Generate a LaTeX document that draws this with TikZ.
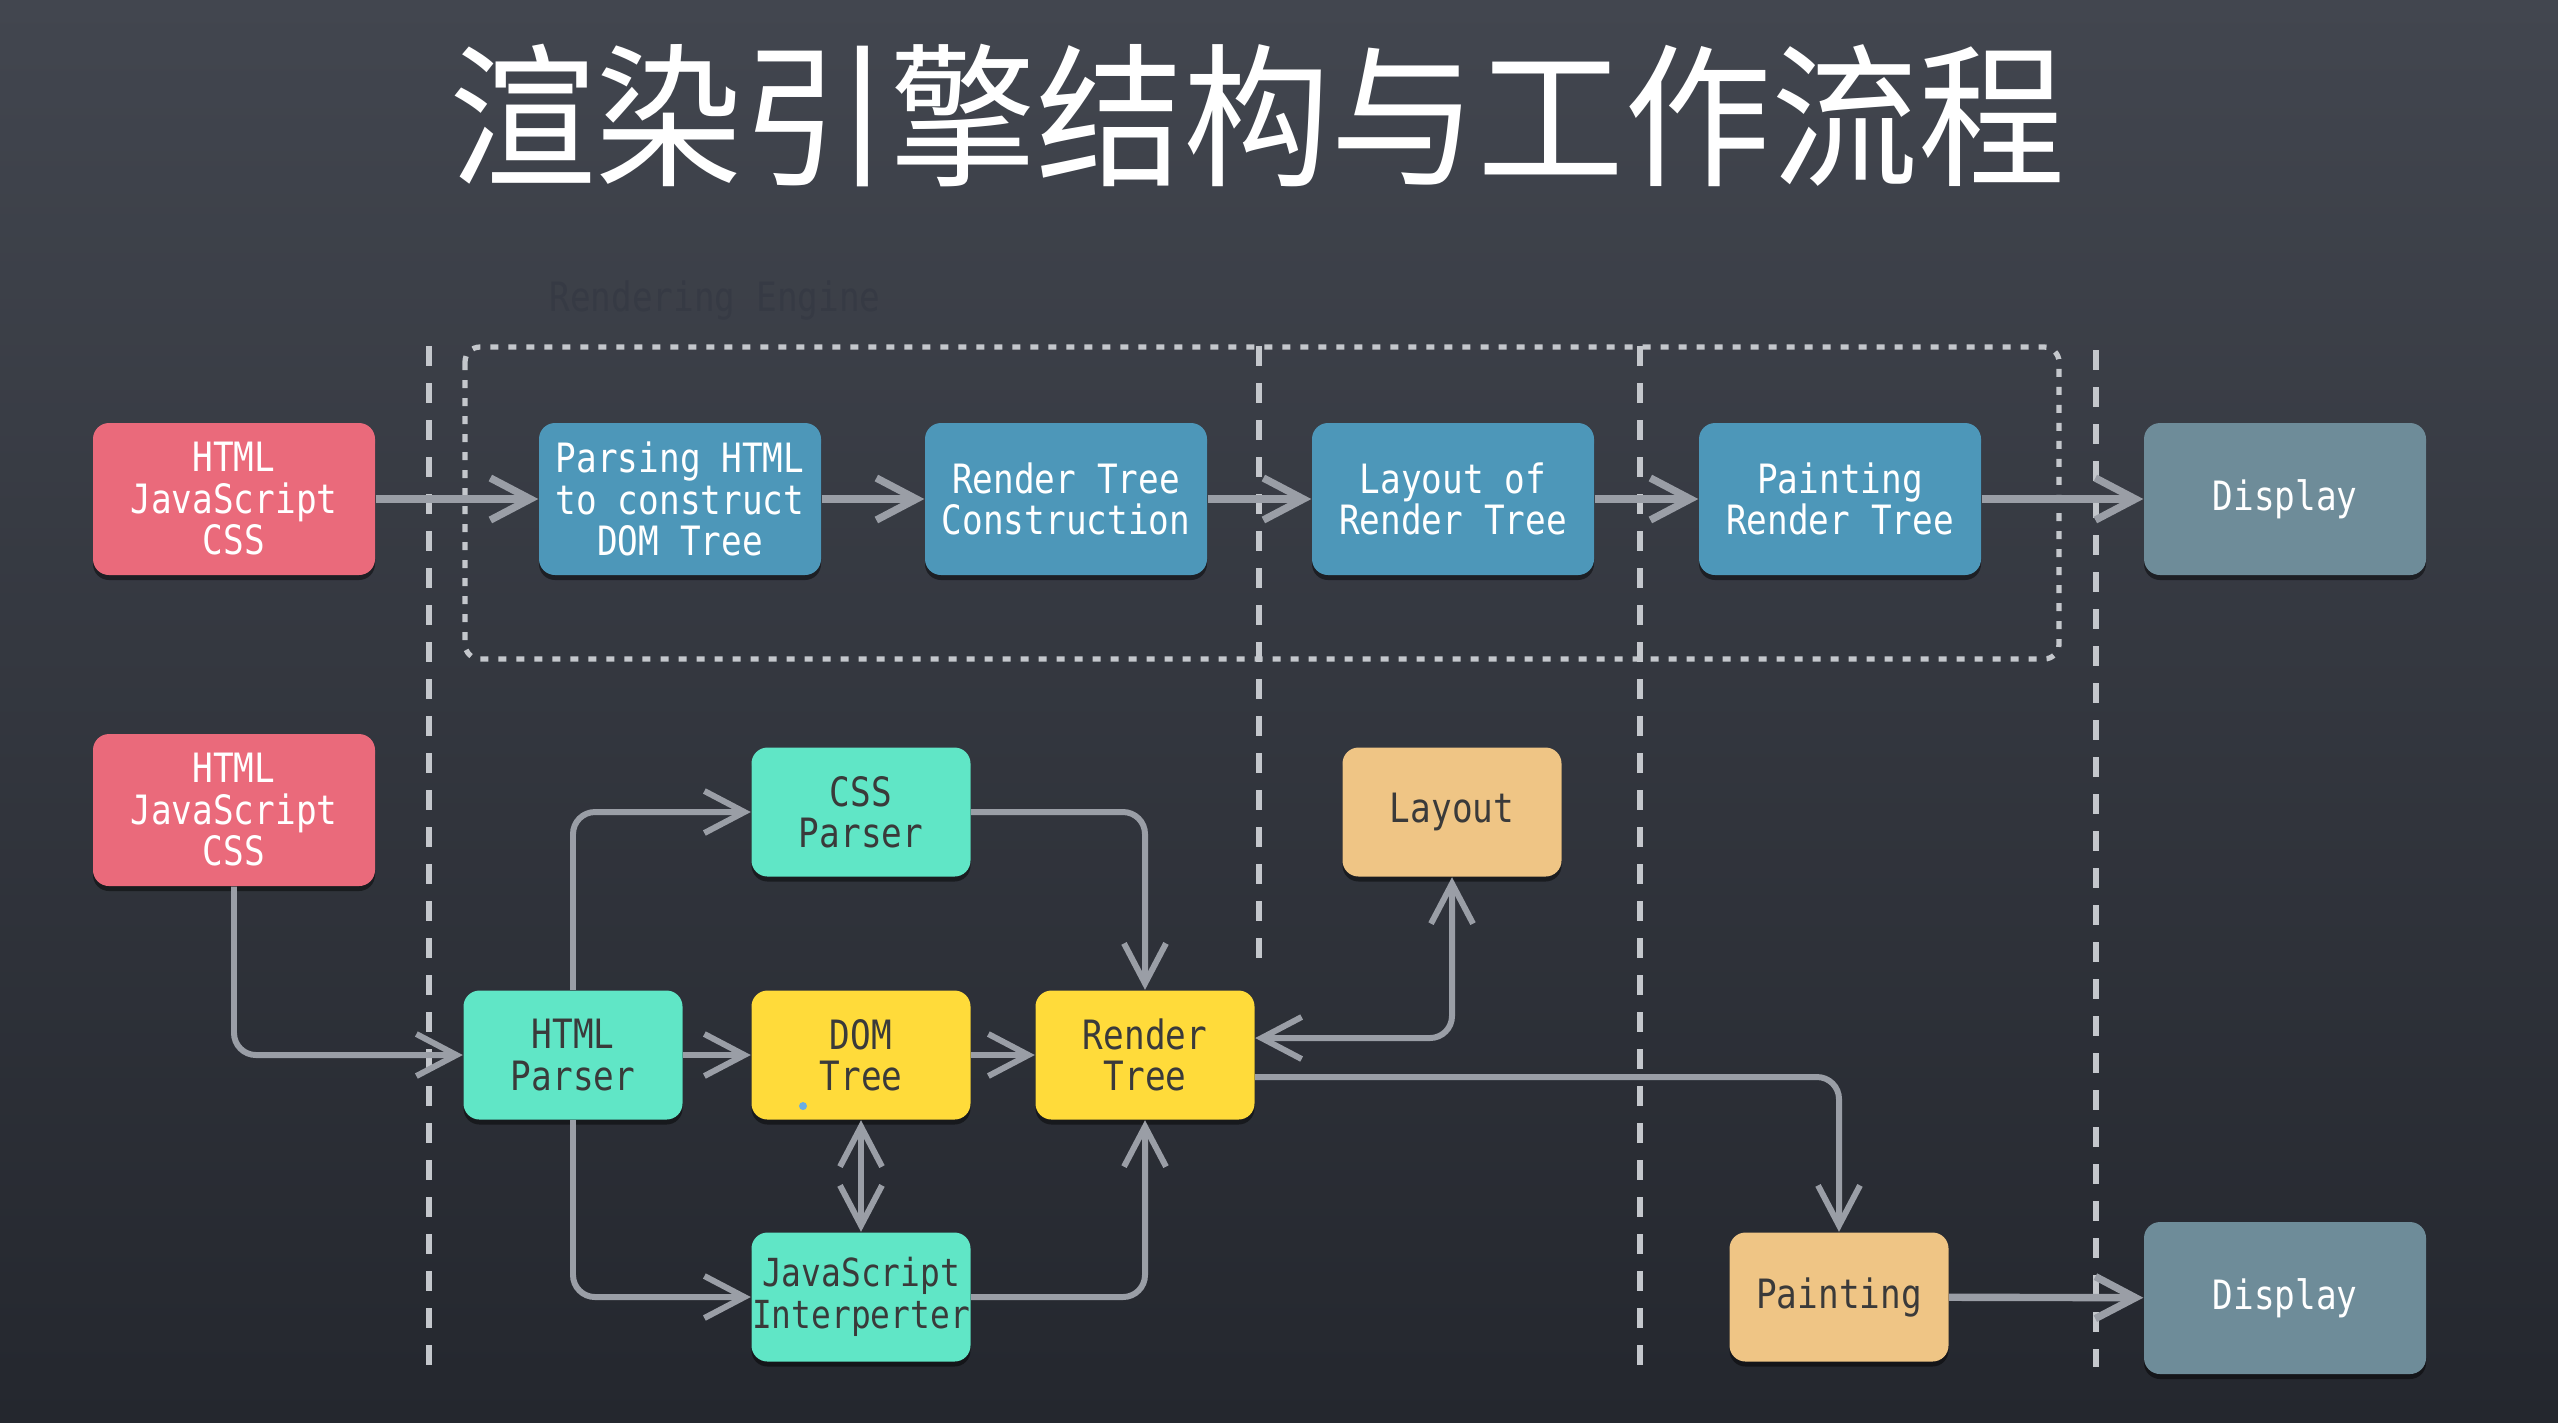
\documentclass[tikz,border=0pt]{standalone}
\usepackage{fontspec}
\newfontfamily\monof[FakeStretch=0.85]{DejaVu Sans Mono}
\newfontfamily\cjkf[FakeStretch=0.95]{Noto Sans CJK SC}
\usetikzlibrary{arrows.meta,shadows,calc}
\definecolor{bgtop}{HTML}{42464F}
\definecolor{bgbot}{HTML}{24272E}
\definecolor{cred}{HTML}{EA6A7B}
\definecolor{cblue}{HTML}{4D97B9}
\definecolor{cdisp}{HTML}{6E8C99}
\definecolor{cteal}{HTML}{60E6C6}
\definecolor{cyel}{HTML}{FFDB3A}
\definecolor{ctan}{HTML}{EFC585}
\definecolor{darktxt}{HTML}{3A3A3A}
\definecolor{agray}{HTML}{9A9EA6}
\definecolor{lgray}{HTML}{C4C7CC}
\definecolor{faint}{HTML}{363A44}
\begin{document}
\begin{tikzpicture}[x=1cm,y=1cm,
  >={Straight Barb[length=0.4cm,width=0.42cm]},
  box/.style={rounded corners=0.16cm, align=center, inner sep=0pt,
    font=\monof\fontsize{11.5}{11.8}\selectfont,
    drop shadow={shadow xshift=0pt, shadow yshift=-0.05cm, opacity=0.45, fill=black}},
  bigbox/.style={box, minimum width=2.82cm, minimum height=1.52cm},
  smallbox/.style={box, minimum width=2.19cm, minimum height=1.29cm},
  redbox/.style={bigbox, fill=cred, text=white},
  bluebox/.style={bigbox, fill=cblue, text=white},
  dispbox/.style={bigbox, fill=cdisp, text=white},
  tealbox/.style={smallbox, fill=cteal, text=darktxt},
  yelbox/.style={smallbox, fill=cyel, text=darktxt},
  tanbox/.style={smallbox, fill=ctan, text=darktxt},
  conn/.style={draw=agray, line width=1.7pt, rounded corners=0.22cm},
  topconn/.style={conn, line width=2.1pt},
  vdash/.style={draw=lgray, line width=1.5pt, dash pattern=on 0.2cm off 0.17cm},
  dotbox/.style={draw=lgray, line width=1.5pt, dash pattern=on 0.08cm off 0.1cm, rounded corners=0.15cm},
]
\useasboundingbox (0,0) rectangle (25.58,-14.22);
\shade[top color=bgtop, bottom color=bgbot] (0,0) rectangle (25.58,-14.22);

% title
\node[font=\cjkf\fontsize{44}{44}\selectfont, text=white] (title) at (12.57,-1.16) {渲染引擎结构与工作流程};
\node[font=\monof\fontsize{11.5}{11.8}\selectfont, text=faint] (eng) at (7.15,-3.0) {Rendering Engine};

% separators
\draw[vdash] (4.29,-3.46) -- (4.29,-13.67);
\draw[vdash] (12.59,-3.46) -- (12.59,-9.63);
\draw[vdash] (16.40,-3.46) -- (16.40,-13.67);
\draw[vdash] (20.96,-3.50) -- (20.96,-13.67);
\draw[dotbox] (4.65,-3.47) rectangle (20.59,-6.59);

% top row
\node[redbox] (r1) at (2.34,-4.99) {HTML\\JavaScript\\CSS};
\node[bluebox] (p1) at (6.80,-4.99) {Parsing HTML\\to construct\\DOM Tree};
\node[bluebox] (p2) at (10.66,-4.99) {Render Tree\\Construction};
\node[bluebox] (p3) at (14.53,-4.99) {Layout of\\Render Tree};
\node[bluebox] (p4) at (18.40,-4.99) {Painting\\Render Tree};
\node[dispbox] (d1) at (22.85,-4.99) {Display};
\draw[topconn,->] (r1) -- (p1);
\draw[topconn,->] (p1) -- (p2);
\draw[topconn,->] (p2) -- (p3);
\draw[topconn,->] (p3) -- (p4);
\draw[topconn,->] (p4) -- (d1);

% bottom
\node[redbox] (r2) at (2.34,-8.10) {HTML\\JavaScript\\CSS};
\node[tealbox] (css) at (8.61,-8.12) {CSS\\Parser};
\node[tanbox] (lay) at (14.52,-8.12) {Layout};
\node[tealbox] (hp) at (5.73,-10.55) {HTML\\Parser};
\node[yelbox] (dom) at (8.61,-10.55) {DOM\\Tree};
\node[yelbox] (rt) at (11.45,-10.55) {Render\\Tree};
\node[tealbox, font=\monof\fontsize{11}{11.8}\selectfont] (js) at (8.61,-12.97) {JavaScript\\Interperter};
\node[tanbox] (pt) at (18.39,-12.97) {Painting};
\node[dispbox] (d2) at (22.85,-12.98) {Display};
\fill[cyan!70!blue!60] (8.03,-11.06) circle (0.04);

\draw[conn,->] (r2.south) |- (hp.west);
\draw[conn,->] (hp.north) |- (css.west);
\draw[conn,->] (hp) -- (dom);
\draw[conn,->] (dom) -- (rt);
\draw[conn,->] (css.east) -| (rt.north);
\draw[conn,->] (hp.south) |- (js.west);
\draw[conn,<->] (dom.south) -- (js.north);
\draw[conn,->] (js.east) -| (rt.south);
\draw[conn,<->] ($(rt.east)+(0,0.17)$) -| (lay.south);
\draw[conn,->] ($(rt.east)+(0,-0.22)$) -| (pt.north);
\draw[topconn,->] (pt) -- (d2);
\end{tikzpicture}
\end{document}
